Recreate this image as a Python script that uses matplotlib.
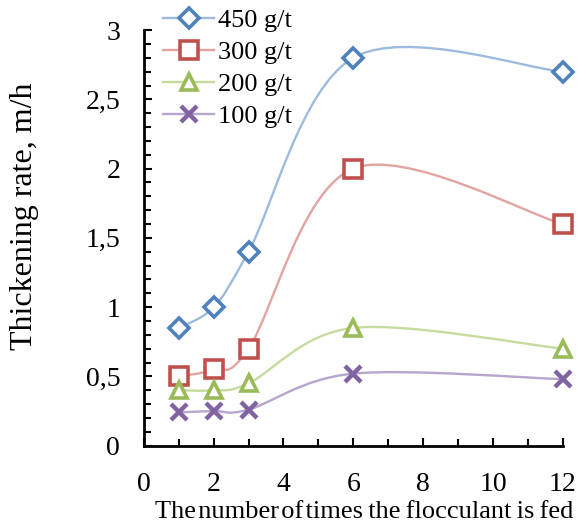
import numpy as np
import matplotlib
matplotlib.use('Agg')
import matplotlib.pyplot as plt
from matplotlib.path import Path
from matplotlib.patches import PathPatch
from matplotlib.ticker import MultipleLocator, FuncFormatter

plt.rcParams['font.family'] = ['Liberation Serif', 'DejaVu Serif']

# data
feeds = [1, 2, 3, 6, 12]
rate_450 = [0.85, 1.0, 1.4, 2.8, 2.7]
rate_300 = [0.5, 0.55, 0.7, 2.0, 1.6]
rate_200 = [0.4, 0.4, 0.45, 0.85, 0.7]
rate_100 = [0.24, 0.25, 0.26, 0.52, 0.48]
labels = ['450 g/t', '300 g/t', '200 g/t', '100 g/t']

series = [rate_450, rate_300, rate_200, rate_100]
marker_colors = ['#4F81BD', '#C0504D', '#9BBB59', '#8064A2']
line_colors = ['#9DBBDE', '#E3A3A1', '#C6DB9E', '#B6A5CC']
markers = ['D', 's', '^', 'x']
sizes = [10, 13, 12, 12]


def smooth_path(x, y):
    """Excel-like smoothed line: cubic Bezier segments (Catmull-Rom control points)."""
    p = np.column_stack([x, y]).astype(float)
    ext = np.vstack([p[0], p, p[-1]])
    verts = [p[0]]
    codes = [Path.MOVETO]
    for i in range(len(p) - 1):
        p0, p1, p2, p3 = ext[i], ext[i + 1], ext[i + 2], ext[i + 3]
        c1 = p1 + (p2 - p0) / 6.0
        c2 = p2 - (p3 - p1) / 6.0
        verts += [c1, c2, p2]
        codes += [Path.CURVE4] * 3
    return Path(verts, codes)


fig = plt.figure(figsize=(5.82, 5.28), dpi=100)
ax = fig.add_axes([0.247, 0.156, 0.72, 0.787])

handles = []
for vals, mc, lc, m, s, lab in zip(series, marker_colors, line_colors, markers, sizes, labels):
    ax.add_patch(PathPatch(smooth_path(feeds, vals), facecolor='none',
                           edgecolor=lc, lw=1.7, zorder=2))
    if m == 'x':
        ax.plot(feeds, vals, ls='none', marker=m, ms=s, mew=3.2, color=mc,
                clip_on=False, zorder=3)
    else:
        ax.plot(feeds, vals, ls='none', marker=m, ms=s, mew=2.6, mec=mc,
                mfc='white', clip_on=False, zorder=3)
    h, = plt.plot([], [], color=lc, lw=1.7, marker=m, ms=s,
                  mew=3.2 if m == 'x' else 2.6, mec=mc,
                  mfc=mc if m == 'x' else 'white')
    handles.append(h)

ax.set_xlim(0, 12)
ax.set_ylim(0, 3)
ax.xaxis.set_major_locator(MultipleLocator(2))
ax.xaxis.set_minor_locator(MultipleLocator(1))
ax.yaxis.set_major_locator(MultipleLocator(0.5))
ax.yaxis.set_minor_locator(MultipleLocator(0.1))
ax.yaxis.set_major_formatter(FuncFormatter(lambda v, p: ('%g' % v).replace('.', ',')))

for side in ['top', 'right']:
    ax.spines[side].set_visible(False)
for side in ['left', 'bottom']:
    ax.spines[side].set_linewidth(2)

ax.tick_params(which='both', direction='in', width=1.5, labelsize=20)
ax.tick_params(which='major', length=6)
ax.tick_params(which='minor', length=5)
ax.tick_params(axis='y', which='major', pad=17)
ax.tick_params(axis='x', which='major', pad=19)

# tight word spacing as in the original
fig.text(0.626, 0.03, 'The\u200anumber\u200aof\u200atimes\u2009the\u2009flocculant\u2009is\u2009fed',
         ha='center', va='center', fontsize=19)
fig.text(0.042, 0.591, 'Thickening rate, m/h', rotation=90,
         ha='center', va='center', fontsize=23)

fig.legend(handles, labels, loc='upper left', bbox_to_anchor=(0.262, 1.004),
           frameon=False, fontsize=19, handlelength=1.95, handletextpad=0.15,
           labelspacing=0.33, borderaxespad=0)

fig.savefig('out.png', dpi=100)
